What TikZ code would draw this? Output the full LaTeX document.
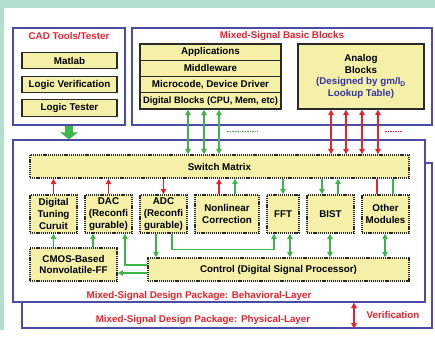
\documentclass[tikz,border=0pt]{standalone}
\usepackage{fontspec}
\setmainfont{Liberation Sans}
\usetikzlibrary{arrows.meta}
\definecolor{mint}{HTML}{B3DFCD}
\definecolor{bord}{HTML}{4B4BA8}
\definecolor{rd}{HTML}{E8232F}
\definecolor{grn}{HTML}{3DB54A}
\definecolor{yel}{HTML}{F4F0A8}
\definecolor{dk}{HTML}{2A2A2A}
\definecolor{bltx}{HTML}{3535A5}
\tikzset{
  fnt/.style={font=\bfseries\fontsize{9.8}{11.8}\selectfont},
  frame/.style={draw=bord, line width=1.2pt, fill=white, inner sep=0pt},
  sbox/.style={draw=dk, fill=yel, line width=1.3pt, inner sep=0pt, align=center, fnt},
  dbox/.style={draw=dk, fill=yel, line width=1.4pt, dash pattern=on 1.2pt off 0.9pt, inner sep=0pt, align=center, fnt},
  ttl/.style={text=rd, fnt, inner sep=0pt},
  gl/.style={draw=grn, line width=1.5pt},
  rl/.style={draw=rd, line width=1.5pt},
  ga/.style={gl, -{Triangle[length=5.5pt,width=5.5pt]}},
  ra/.style={rl, -{Triangle[length=5.5pt,width=5.5pt]}},
  gaa/.style={gl, {Triangle[length=5.5pt,width=5.5pt]}-{Triangle[length=5.5pt,width=5.5pt]}},
  raa/.style={rl, {Triangle[length=5.5pt,width=5.5pt]}-{Triangle[length=5.5pt,width=5.5pt]}},
  bigarrow/.style={draw=grn, line width=8pt, -{Triangle[length=7pt,width=17pt]}},
}
\begin{document}
\begin{tikzpicture}[x=1pt,y=-1pt]
\useasboundingbox (0,0) rectangle (435,342);
\fill[white] (0,0) rectangle (435,342);
\fill[mint] (0,0) rectangle (435,8);
\fill[mint] (0,0) rectangle (4,330);

% top frames
\node[frame, minimum width=112pt, minimum height=97pt] (cad) at (69,76.5) {};
\node[frame, minimum width=300pt, minimum height=97pt] (msb) at (282,76.5) {};
\node[ttl] (cadt) at (69,36) {CAD Tools/Tester};
\node[ttl] (msbt) at (282,36) {Mixed-Signal Basic Blocks};

\node[sbox, minimum width=95pt, minimum height=16.5pt] (mat) at (69.5,60.5) {Matlab};
\node[sbox, minimum width=95pt, minimum height=16.5pt] (lv) at (69.5,84.5) {Logic Verification};
\node[sbox, minimum width=95pt, minimum height=16.5pt] (lt) at (69.5,108) {Logic Tester};

\node[sbox, minimum width=141pt, minimum height=16.25pt] (app) at (210.5,52.1) {Applications};
\node[sbox, minimum width=141pt, minimum height=16.25pt] (mid) at (210.5,68.4) {Middleware};
\node[sbox, minimum width=141pt, minimum height=16.25pt] (mic) at (210.5,84.6) {Microcode, Device Driver};
\node[sbox, minimum width=141pt, minimum height=16.25pt, font=\bfseries\fontsize{9.3}{11}\selectfont] (dig) at (210.5,100.9) {Digital Blocks (CPU, Mem, etc)};

\node[sbox, minimum width=126pt, minimum height=65pt] (ana) at (361,76.5) {Analog\\Blocks\\\textcolor{bltx}{(Designed by gm/I\textsubscript{D}}\\\textcolor{bltx}{Lookup Table)}};

% layer frames
\node[frame, minimum width=410pt, minimum height=165pt] (phy) at (227,245.5) {};
\node[frame, minimum width=412pt, minimum height=162pt] (beh) at (219,221) {};
\node[ttl] (beht) at (199,296) {Mixed-Signal Design Package: Behavioral-Layer};
\node[ttl] (phyt) at (203,320) {Mixed-Signal Design Package: Physical-Layer};
\node[ttl] (ver) at (393,315) {Verification};

\draw[bigarrow] (cad.south) -- (cad.south |- beh.north);

% inner blocks
\node[dbox, minimum width=379pt, minimum height=23pt] (sm) at (219.5,166.5) {Switch Matrix};
\node[dbox, minimum width=47pt, minimum height=38pt] (dtc) at (53.5,214) {Digital\\Tuning\\Curuit};
\node[dbox, minimum width=47pt, minimum height=38pt] (dac) at (108.5,214) {DAC\\(Reconfi\\gurable)};
\node[dbox, minimum width=47pt, minimum height=38pt] (adc) at (163.5,214) {ADC\\(Reconfi\\gurable)};
\node[dbox, minimum width=64pt, minimum height=38pt] (nlc) at (227,214) {Nonlinear\\Correction};
\node[dbox, minimum width=32pt, minimum height=38pt] (fft) at (283,214) {FFT};
\node[dbox, minimum width=47pt, minimum height=38pt] (bist) at (330.5,214) {BIST};
\node[dbox, minimum width=47pt, minimum height=38pt] (oth) at (385.5,214) {Other\\Modules};
\node[dbox, minimum width=87pt, minimum height=33pt] (cmos) at (73.5,264.5) {CMOS-Based\\Nonvolatile-FF};
\node[dbox, minimum width=261pt, minimum height=23pt] (ctrl) at (278.5,269.5) {Control (Digital Signal Processor)};

% top connectors
\foreach \x in {188,204,219} \draw[gaa] (dig.south -| \x,0) -- (sm.north -| \x,0);
\foreach \x in {331,346,362,378} \draw[raa] (ana.south -| \x,0) -- (sm.north -| \x,0);
\draw[grn, line width=1pt, dash pattern=on 1.5pt off 1pt] (227,131.5) -- (258,131.5);
\draw[rd, line width=1pt, dash pattern=on 1.5pt off 1pt] (385,131.5) -- (402,131.5);

% switch matrix <-> modules
\draw[ra] (dtc.north) -- (dtc.north |- sm.south);
\draw[ra] (dac.north) -- (dac.north |- sm.south);
\draw[ra] (adc.north |- sm.south) -- (adc.north);
\draw[ra] (nlc.north -| 219,0) -- (sm.south -| 219,0);
\draw[ga] (nlc.north -| 235,0) -- (sm.south -| 235,0);
\draw[ga] (sm.south -| fft.north) -- (fft.north);
\draw[ga] (sm.south -| 322,0) -- (bist.north -| 322,0);
\draw[ga] (bist.north -| 338,0) -- (sm.south -| 338,0);
\draw[rl] (oth.north -| 377,0) -- (sm.south -| 377,0);
\draw[gl] (oth.north -| 393,0) -- (sm.south -| 393,0);

% lower connectors
\draw[ga] (cmos.north -| dtc.south) -- (dtc.south);
\draw[ga] (cmos.north -| 93,0) -- (dac.south -| 93,0);
\draw[ga] (ctrl.west |- 0,265) -| (dac.south -| 125,0);
\draw[ga] (ctrl.west |- 0,273) -- (cmos.east |- 0,273);
\draw[ga] (adc.south -| 156,0) -- (ctrl.north -| 156,0);
\draw[ga] (adc.south -| 172,0) -- ++(0,16) -| (fft.south -| 274,0);
\draw[gaa] (fft.south -| 290,0) -- (ctrl.north -| 290,0);
\draw[gaa] (bist.south -| 330,0) -- (ctrl.north -| 330,0);
\draw[gaa] (oth.south -| 385,0) -- (ctrl.north -| 385,0);

% verification
\draw[raa] (beh.south -| 354,0) -- (phy.south -| 354,0);
\end{tikzpicture}
\end{document}
